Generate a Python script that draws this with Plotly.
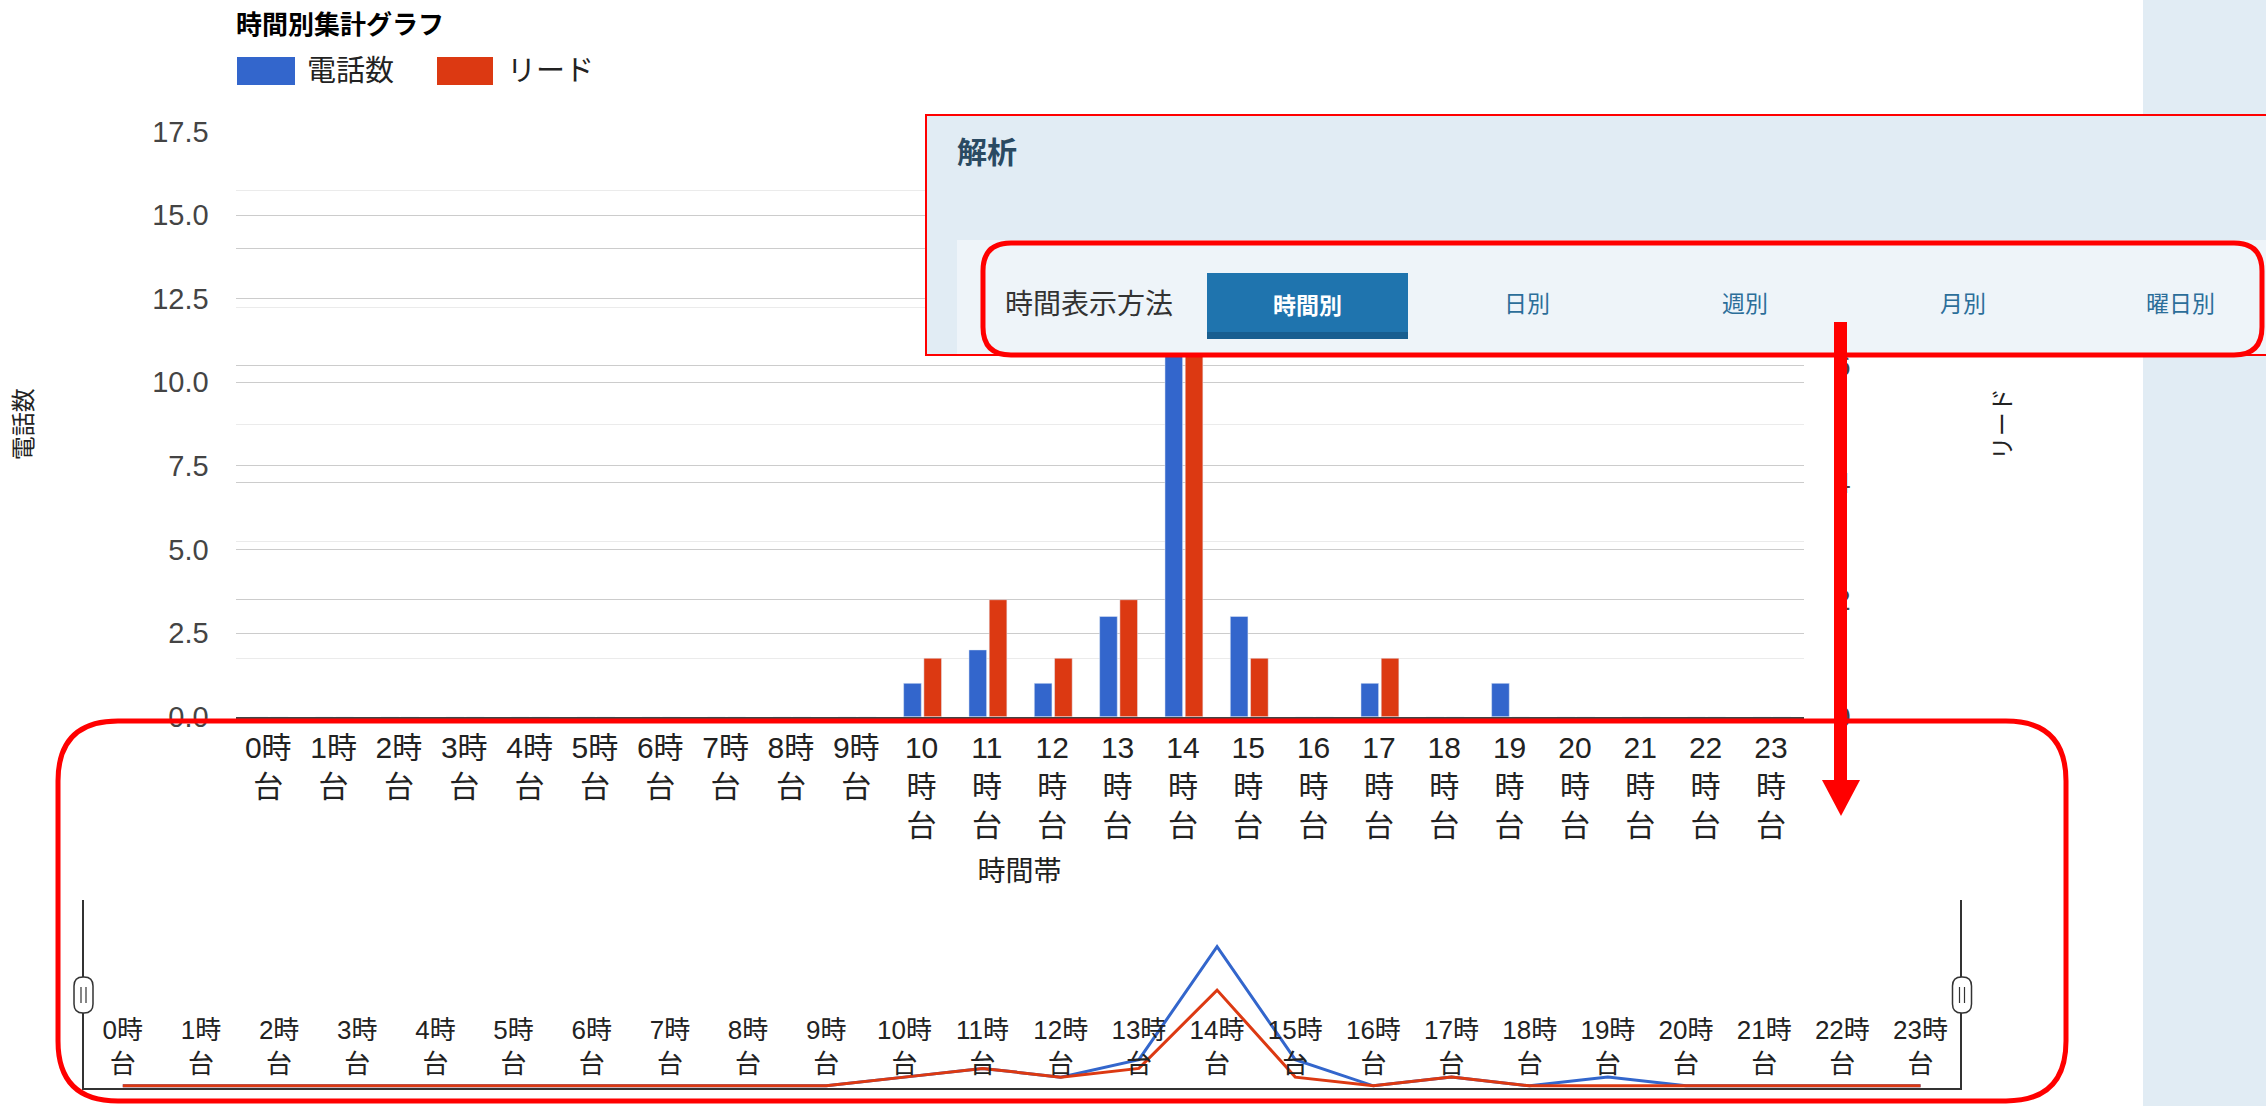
import plotly.graph_objects as go

# ---------------- data ----------------
hours = list(range(24))
calls = [0, 0, 0, 0, 0, 0, 0, 0, 0, 0, 1, 2, 1, 3, 16, 3, 0, 1, 0, 1, 0, 0, 0, 0]
leads = [0, 0, 0, 0, 0, 0, 0, 0, 0, 0, 1, 2, 1, 2, 11, 1, 0, 1, 0, 0, 0, 0, 0, 0]
main_labels = [f"{h}時<br>台" if h < 10 else f"{h}<br>時<br>台" for h in hours]
slider_labels = [f"{h}時<br>台" for h in hours]
series_names = ["電話数", "リード"]
chart_title = "時間別集計グラフ"
x_title = "時間帯"
tabs = ["日別", "週別", "月別", "曜日別"]

W, H = 2266, 1106
BLUE, RED = "#3366CC", "#DC3912"
FONT = "Arial, 'Liberation Sans', 'Noto Sans CJK JP', sans-serif"
ANN_RED = "#FF0000"


def X(px):
    return px / W


def Y(py):
    return 1 - py / H


def rrect(x0, y0, x1, y1, r):
    pts = [
        ("M", [(x0 + r, y0)]), ("L", [(x1 - r, y0)]), ("Q", [(x1, y0), (x1, y0 + r)]),
        ("L", [(x1, y1 - r)]), ("Q", [(x1, y1), (x1 - r, y1)]), ("L", [(x0 + r, y1)]),
        ("Q", [(x0, y1), (x0, y1 - r)]), ("L", [(x0, y0 + r)]), ("Q", [(x0, y0), (x0 + r, y0)]),
    ]
    s = ""
    for cmd, ps in pts:
        s += cmd + " " + " ".join(f"{X(a):.5f},{Y(b):.5f}" for a, b in ps) + " "
    return s + "Z"


fig = go.Figure()

# main bars (left axis: calls, right axis: leads)
fig.add_trace(go.Bar(x=hours, y=calls, name=series_names[0], marker_color=BLUE,
                     width=0.27, offset=-0.275, xaxis="x", yaxis="y"))
fig.add_trace(go.Bar(x=hours, y=leads, name=series_names[1], marker_color=RED,
                     width=0.27, offset=0.035, xaxis="x", yaxis="y2"))
# range-filter preview lines
fig.add_trace(go.Scatter(x=hours, y=calls, mode="lines", line=dict(color=BLUE, width=3),
                         xaxis="x3", yaxis="y3", name=series_names[0]))
fig.add_trace(go.Scatter(x=hours, y=leads, mode="lines", line=dict(color=RED, width=3),
                         xaxis="x3", yaxis="y3", name=series_names[1]))

fig.update_layout(
    width=W, height=H, margin=dict(l=0, r=0, t=0, b=0, autoexpand=False),
    paper_bgcolor="white", plot_bgcolor="white", showlegend=False,
    barmode="overlay", font=dict(family=FONT, color="#222"),
    xaxis=dict(domain=[X(235.6), X(1803.6)], anchor="y", range=[-0.5, 23.5], automargin=False,
               tickmode="array", tickvals=hours, ticktext=main_labels,
               showgrid=False, zeroline=False, showline=True, linecolor="#444", linewidth=2,
               ticks="", tickfont=dict(size=30, color="#222"), ticklabelstandoff=3,
               title=dict(text=x_title, font=dict(size=28, color="#222"), standoff=21)),
    yaxis=dict(domain=[Y(716.8), Y(131.5)], anchor="x", range=[0, 17.5], dtick=2.5, tick0=0,
               automargin=False,
               tickformat=".1f", gridcolor="#cccccc", gridwidth=1.4, zeroline=False,
               showline=False, ticks="", tickfont=dict(size=29, color="#444"),
               ticklabelstandoff=26,
               title=dict(text=series_names[0], font=dict(size=24, color="#222"), standoff=112)),
    yaxis2=dict(overlaying="y", side="right", anchor="x", range=[0, 10], dtick=2, tick0=0,
                automargin=False,
                gridcolor="#cccccc", gridwidth=1.4, zeroline=False, showline=False, ticks="",
                minor=dict(dtick=1, showgrid=True, gridcolor="#ebebeb", gridwidth=1.4),
                tickfont=dict(size=29, color="#444"), ticklabelstandoff=30,
                title=dict(text=series_names[1], font=dict(size=24, color="#222"), standoff=128)),
    xaxis3=dict(domain=[X(83.7), X(1959.6)], anchor="y3", range=[-0.5, 23.5], automargin=False,
                tickmode="array", tickvals=hours, ticktext=slider_labels,
                ticklabelposition="inside", ticklabelstandoff=12,
                showgrid=False, zeroline=False, showline=True, linecolor="#333", linewidth=2,
                ticks="", tickfont=dict(size=26, color="#222")),
    yaxis3=dict(domain=[Y(1088), Y(900)], anchor="x3", range=[-0.25, 21.35], automargin=False,
                showticklabels=False, showgrid=False, zeroline=False, ticks="",
                showline=True, mirror=True, linecolor="#333", linewidth=1.5),
)

shapes = []
ann = []

# right sidebar of the page
shapes.append(dict(type="rect", xref="paper", yref="paper", x0=X(2143), x1=X(2266), y0=Y(1106), y1=Y(0),
                   fillcolor="#E1ECF4", line=dict(width=0), layer="below"))

# legend swatches (wide rectangles as in the original)
shapes.append(dict(type="rect", xref="paper", yref="paper", x0=X(237), x1=X(295), y0=Y(85), y1=Y(57),
                   fillcolor=BLUE, line=dict(width=0)))
shapes.append(dict(type="rect", xref="paper", yref="paper", x0=X(437), x1=X(493), y0=Y(85), y1=Y(57),
                   fillcolor=RED, line=dict(width=0)))
ann.append(dict(text=series_names[0], x=X(305), y=Y(71), xanchor="left", yanchor="middle",
                font=dict(size=29, color="#222")))
ann.append(dict(text=series_names[1], x=X(505), y=Y(71), xanchor="left", yanchor="middle",
                font=dict(size=29, color="#222")))
ann.append(dict(text=f"<b>{chart_title}</b>", x=X(234), y=Y(25), xanchor="left", yanchor="middle",
                font=dict(size=26, color="#000")))

# overlay panel (screenshot annotation)
shapes.append(dict(type="rect", xref="paper", yref="paper", x0=X(926), x1=X(2272), y0=Y(355), y1=Y(115),
                   fillcolor="#E1ECF4", line=dict(color=ANN_RED, width=2), layer="above"))
shapes.append(dict(type="rect", xref="paper", yref="paper", x0=X(957), x1=X(2272), y0=Y(354), y1=Y(240),
                   fillcolor="#EEF4F9", line=dict(width=0), layer="above"))
shapes.append(dict(type="rect", xref="paper", yref="paper", x0=X(1207), x1=X(1408), y0=Y(339), y1=Y(273),
                   fillcolor="#1F74AE", line=dict(width=0), layer="above"))
shapes.append(dict(type="rect", xref="paper", yref="paper", x0=X(1207), x1=X(1408), y0=Y(339), y1=Y(332),
                   fillcolor="#185E90", line=dict(width=0), layer="above"))
shapes.append(dict(type="path", xref="paper", yref="paper", path=rrect(983, 243, 2262, 355, 28),
                   line=dict(color=ANN_RED, width=5), layer="above"))
ann.append(dict(text="<b>解析</b>", x=X(955), y=Y(152), xanchor="left", yanchor="middle",
                font=dict(size=30, color="#2A4A62")))
ann.append(dict(text="時間表示方法", x=X(1003), y=Y(304), xanchor="left", yanchor="middle",
                font=dict(size=28, color="#333")))
ann.append(dict(text="<b>時間別</b>", x=X(1307), y=Y(306), xanchor="center", yanchor="middle",
                font=dict(size=23, color="white")))
for t, cx in zip(tabs, [1527, 1745, 1963, 2180]):
    ann.append(dict(text=t, x=X(cx), y=Y(304), xanchor="center", yanchor="middle",
                    font=dict(size=23, color="#2C6E99")))

# red arrow
shapes.append(dict(type="rect", xref="paper", yref="paper", x0=X(1834), x1=X(1847), y0=Y(784), y1=Y(322),
                   fillcolor=ANN_RED, line=dict(width=0), layer="above"))
shapes.append(dict(type="path", xref="paper", yref="paper",
                   path=f"M {X(1822)},{Y(780)} L {X(1860)},{Y(780)} L {X(1841)},{Y(816)} Z",
                   fillcolor=ANN_RED, line=dict(width=0), layer="above"))

# bottom red rounded box
shapes.append(dict(type="path", xref="paper", yref="paper", path=rrect(58, 721, 2066, 1101, 60),
                   line=dict(color=ANN_RED, width=5), layer="above"))

# range-filter handles
for cx in (83.5, 1962):
    shapes.append(dict(type="path", xref="paper", yref="paper", path=rrect(cx - 9.5, 977, cx + 9.5, 1013, 9),
                       fillcolor="white", line=dict(color="#333", width=1.5), layer="above"))
    for dx in (-2.5, 2.5):
        shapes.append(dict(type="line", xref="paper", yref="paper", x0=X(cx + dx), x1=X(cx + dx),
                           y0=Y(987), y1=Y(1003), line=dict(color="#333", width=1.2), layer="above"))

for a in ann:
    a.update(xref="paper", yref="paper", showarrow=False)
fig.update_layout(shapes=shapes, annotations=ann)

fig.write_html(
    "out.html",
    config={"displayModeBar": False},
    post_script="document.body.style.margin='0';",
)
